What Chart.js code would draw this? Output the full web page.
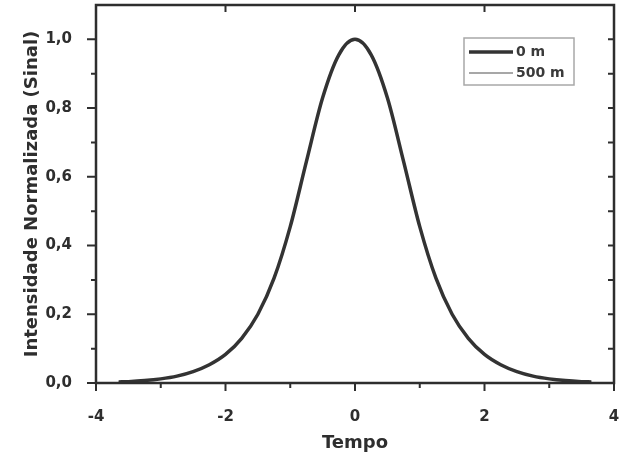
<!DOCTYPE html>
<html>
<head>
<meta charset="utf-8">
<script src="https://cdn.jsdelivr.net/npm/chart.js@4.4.1/dist/chart.umd.min.js"></script>
<style>
  html, body { margin: 0; padding: 0; background: #fff; }
  #wrap { width: 622px; height: 457px; }
</style>
</head>
<body>
<div id="wrap"><canvas id="chart" width="622" height="457"></canvas></div>
<script>
// values
const tempo = [-3.65, -3.5, -3.25, -3, -2.75, -2.5, -2.25, -2, -1.75, -1.5, -1.25, -1, -0.75, -0.5, -0.25,
  0, 0.25, 0.5, 0.75, 1, 1.25, 1.5, 1.75, 2, 2.25, 2.5, 2.75, 3, 3.25, 3.5, 3.65];
const sinal0m = [0.003, 0.004, 0.007, 0.012, 0.02, 0.033, 0.053, 0.083, 0.13, 0.2, 0.305, 0.455, 0.645, 0.83, 0.955,
  1.0, 0.955, 0.83, 0.645, 0.455, 0.305, 0.2, 0.13, 0.083, 0.053, 0.033, 0.02, 0.012, 0.007, 0.004, 0.003];
const sinal500m = [0.003, 0.004, 0.007, 0.012, 0.02, 0.033, 0.053, 0.083, 0.13, 0.2, 0.305, 0.455, 0.645, 0.83, 0.955,
  1.0, 0.955, 0.83, 0.645, 0.455, 0.305, 0.2, 0.13, 0.083, 0.053, 0.033, 0.02, 0.012, 0.007, 0.004, 0.003];
const seriesLabels = ['0 m', '500 m'];
const xMajor = [-4, -2, 0, 2, 4];
const xMinor = [-3, -1, 1, 3];

const INK = '#2e2e2e';
const FONT = "'DejaVu Sans', sans-serif";

const toPoints = ys => tempo.map((t, i) => ({ x: t, y: ys[i] }));

// frame, ticks on all four sides, and the boxed legend
const framePlugin = {
  id: 'frame',
  afterDraw(chart) {
    const { ctx, chartArea: a, scales: { x, y } } = chart;
    ctx.save();
    ctx.strokeStyle = INK;
    ctx.lineWidth = 2;
    ctx.beginPath();
    xMajor.forEach(v => {
      const px = x.getPixelForValue(v);
      ctx.moveTo(px, a.bottom); ctx.lineTo(px, a.bottom + 8);
      ctx.moveTo(px, a.top); ctx.lineTo(px, a.top + 7);
    });
    xMinor.forEach(v => {
      const px = x.getPixelForValue(v);
      ctx.moveTo(px, a.bottom); ctx.lineTo(px, a.bottom + 5);
    });
    for (let i = 0; i <= 10; i++) {
      const py = y.getPixelForValue(i / 10);
      const len = i % 2 === 0 ? 9 : 5;
      ctx.moveTo(a.left, py); ctx.lineTo(a.left - len, py);
      ctx.moveTo(a.right, py); ctx.lineTo(a.right - 6, py);
    }
    ctx.stroke();
    ctx.lineWidth = 2.5;
    ctx.strokeRect(a.left, a.top, a.right - a.left, a.bottom - a.top);

    // legend box
    const lx = 464, ly = 38, lw = 110, lh = 47;
    ctx.lineWidth = 1.5;
    ctx.strokeStyle = '#a8a8a8';
    ctx.strokeRect(lx, ly, lw, lh);
    const ds = chart.data.datasets;
    ctx.font = 'bold 14px ' + FONT;
    ctx.textBaseline = 'middle';
    ctx.fillStyle = '#3a3a3a';
    [52, 73].forEach((yy, i) => {
      ctx.strokeStyle = ds[i].borderColor;
      ctx.lineWidth = i === 0 ? 3.5 : 1.5;
      ctx.beginPath();
      ctx.moveTo(lx + 5, yy); ctx.lineTo(lx + 49, yy);
      ctx.stroke();
      ctx.fillText(ds[i].label, lx + 52, yy);
    });
    ctx.restore();
  }
};

new Chart(document.getElementById('chart'), {
  type: 'line',
  data: {
    datasets: [
      { label: seriesLabels[0], data: toPoints(sinal0m), borderColor: '#333333', borderWidth: 3.5,
        pointRadius: 0, cubicInterpolationMode: 'monotone', fill: false },
      { label: seriesLabels[1], data: toPoints(sinal500m), borderColor: '#8a8a8a', borderWidth: 1.5,
        pointRadius: 0, cubicInterpolationMode: 'monotone', fill: false }
    ]
  },
  options: {
    responsive: false,
    animation: false,
    events: [],
    layout: { padding: { top: 5, right: 8, left: 0, bottom: 0 } },
    plugins: { legend: { display: false }, tooltip: { enabled: false } },
    scales: {
      x: {
        type: 'linear', min: -4, max: 4,
        grid: { display: false }, border: { display: false },
        ticks: { stepSize: 2, padding: 17, color: INK, font: { family: FONT, size: 15, weight: 'bold' } },
        title: { display: true, text: 'Tempo', color: INK, padding: { top: 0, bottom: 3 },
          font: { family: FONT, size: 18, weight: 'bold' } },
        afterFit: s => { s.height = 74; s.paddingLeft = 0; s.paddingRight = 0; }
      },
      y: {
        type: 'linear', min: 0, max: 1.1,
        grid: { display: false }, border: { display: false },
        ticks: { stepSize: 0.2, includeBounds: false, padding: 16, color: INK,
          font: { family: FONT, size: 15, weight: 'bold' },
          callback: v => v.toFixed(1).replace('.', ',') },
        title: { display: true, text: 'Intensidade Normalizada (Sinal)', color: INK, padding: { top: 22, bottom: 0 },
          font: { family: FONT, size: 18, weight: 'bold' } },
        afterFit: s => { s.width = 96; s.paddingTop = 0; s.paddingBottom = 0; }
      }
    }
  },
  plugins: [framePlugin]
});
</script>
</body>
</html>
